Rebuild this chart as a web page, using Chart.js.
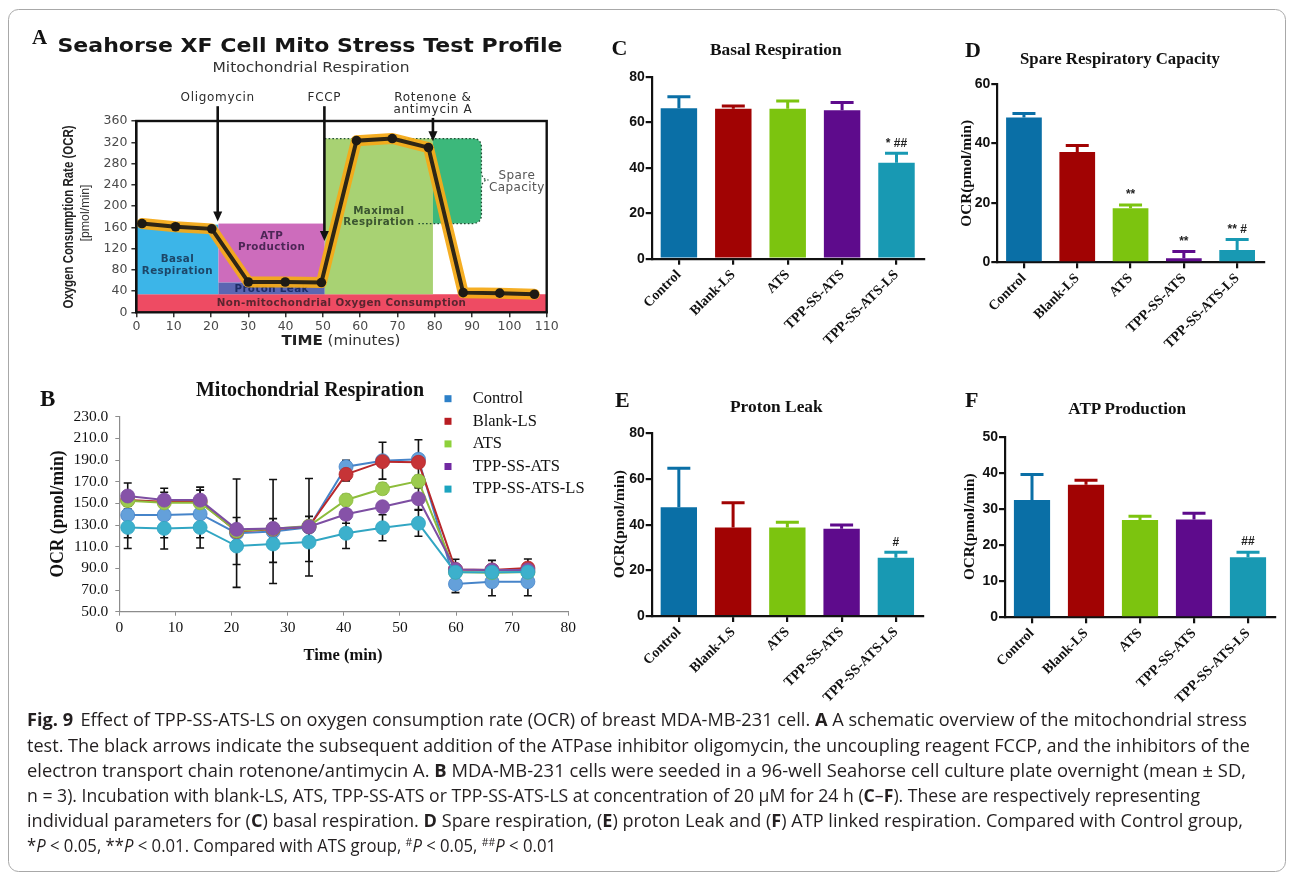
<!DOCTYPE html>
<html>
<head>
<meta charset="utf-8">
<script src="https://cdn.jsdelivr.net/npm/chart.js@4.4.1/dist/chart.umd.min.js"></script>
<style>
  html, body { margin: 0; padding: 0; background: #fff; }
  body { width: 1293px; height: 875px; position: relative; overflow: hidden; }
  canvas { position: absolute; }
  svg.overlay { position: absolute; left: 0; top: 0; pointer-events: none; }
</style>
</head>
<body>
<canvas id="panelA" width="560" height="290" style="left:20px;top:80px"></canvas>
<canvas id="panelB" width="580" height="310" style="left:20px;top:370px"></canvas>
<canvas id="panelC" width="330" height="330" style="left:600px;top:30px"></canvas>
<canvas id="panelD" width="355" height="330" style="left:930px;top:30px"></canvas>
<canvas id="panelE" width="330" height="330" style="left:600px;top:380px"></canvas>
<canvas id="panelF" width="355" height="330" style="left:930px;top:380px"></canvas>

<svg class="overlay" width="1293" height="875" xmlns="http://www.w3.org/2000/svg">
  <rect x="8.5" y="9.5" width="1277" height="862" rx="10" ry="10" fill="none" stroke="#a8a8a8" stroke-width="1"/>

  <!-- panel A headings -->
  <text x="32" y="44" font-family="Liberation Serif" font-weight="bold" font-size="21" fill="#111">A</text>
  <text x="57.5" y="52" font-family="DejaVu Sans" font-weight="bold" font-size="20" fill="#161616" textLength="505" lengthAdjust="spacingAndGlyphs">Seahorse XF Cell Mito Stress Test Profile</text>
  <text x="311" y="71.5" text-anchor="middle" font-family="DejaVu Sans" font-size="13.5" fill="#333" textLength="197" lengthAdjust="spacingAndGlyphs">Mitochondrial Respiration</text>
  <text transform="translate(73,217) rotate(-90)" text-anchor="middle" font-family="Liberation Sans Narrow, Liberation Sans" font-weight="bold" font-size="14.5" fill="#222" textLength="183" lengthAdjust="spacingAndGlyphs">Oxygen Consumption Rate (OCR)</text>
  <text transform="translate(88.5,213) rotate(-90)" text-anchor="middle" font-family="Liberation Sans Narrow, Liberation Sans" font-size="13" fill="#333" textLength="57" lengthAdjust="spacingAndGlyphs">[pmol/min]</text>
  <text x="341" y="345" text-anchor="middle" font-family="DejaVu Sans" font-size="13.5" fill="#333" textLength="119" lengthAdjust="spacingAndGlyphs"><tspan font-weight="bold" fill="#222">TIME</tspan> (minutes)</text>

  <!-- panel B headings -->
  <text x="40" y="405.5" font-family="Liberation Serif" font-weight="bold" font-size="23" fill="#111">B</text>
  <text x="196" y="395.5" font-family="Liberation Serif" font-weight="bold" font-size="20" fill="#111" textLength="228" lengthAdjust="spacingAndGlyphs">Mitochondrial  Respiration</text>
  <text transform="translate(62.8,514) rotate(-90)" text-anchor="middle" font-family="Liberation Serif" font-weight="bold" font-size="18" fill="#111" textLength="127" lengthAdjust="spacingAndGlyphs">OCR (pmol/min)</text>
  <text x="343" y="660" text-anchor="middle" font-family="Liberation Serif" font-weight="bold" font-size="17" fill="#111" textLength="79" lengthAdjust="spacingAndGlyphs">Time (min)</text>

  <!-- panels C to F headings -->
  <text x="611.5" y="55" font-family="Liberation Serif" font-weight="bold" font-size="22" fill="#111">C</text>
  <text x="710" y="55" font-family="Liberation Serif" font-weight="bold" font-size="17.5" fill="#111" textLength="131.7" lengthAdjust="spacingAndGlyphs">Basal Respiration</text>

  <text x="965" y="56.7" font-family="Liberation Serif" font-weight="bold" font-size="22" fill="#111">D</text>
  <text x="1020" y="63.5" font-family="Liberation Serif" font-weight="bold" font-size="16.8" fill="#111" textLength="200" lengthAdjust="spacingAndGlyphs">Spare Respiratory Capacity</text>
  <text transform="translate(970.5,173.3) rotate(-90)" text-anchor="middle" font-family="Liberation Serif" font-weight="bold" font-size="15.5" fill="#111" textLength="106.7" lengthAdjust="spacingAndGlyphs">OCR(pmol/min)</text>

  <text x="615" y="406.7" font-family="Liberation Serif" font-weight="bold" font-size="22" fill="#111">E</text>
  <text x="730" y="411.7" font-family="Liberation Serif" font-weight="bold" font-size="17.3" fill="#111" textLength="92.7" lengthAdjust="spacingAndGlyphs">Proton Leak</text>
  <text transform="translate(623.5,524.2) rotate(-90)" text-anchor="middle" font-family="Liberation Serif" font-weight="bold" font-size="15.5" fill="#111" textLength="108.3" lengthAdjust="spacingAndGlyphs">OCR(pmol/min)</text>

  <text x="965" y="406.7" font-family="Liberation Serif" font-weight="bold" font-size="22" fill="#111">F</text>
  <text x="1068.3" y="414" font-family="Liberation Serif" font-weight="bold" font-size="16.7" fill="#111" textLength="117.7" lengthAdjust="spacingAndGlyphs">ATP Production</text>
  <text transform="translate(973.5,526.7) rotate(-90)" text-anchor="middle" font-family="Liberation Serif" font-weight="bold" font-size="15.5" fill="#111" textLength="106.7" lengthAdjust="spacingAndGlyphs">OCR(pmol/min)</text>

  <!-- figure caption -->
  <g font-family="Open Sans" font-size="17.5" fill="#231f20">
    <text x="27" y="726" textLength="1220" lengthAdjust="spacingAndGlyphs"><tspan font-weight="bold">Fig. 9</tspan><tspan dx="7">Effect of TPP-SS-ATS-LS on oxygen consumption rate (OCR) of breast MDA-MB-231 cell. </tspan><tspan font-weight="bold">A</tspan> A schematic overview of the mitochondrial stress</text>
    <text x="27" y="752" textLength="1223" lengthAdjust="spacingAndGlyphs">test. The black arrows indicate the subsequent addition of the ATPase inhibitor oligomycin, the uncoupling reagent FCCP, and the inhibitors of the</text>
    <text x="27" y="777" textLength="1219" lengthAdjust="spacingAndGlyphs">electron transport chain rotenone/antimycin A. <tspan font-weight="bold">B</tspan> MDA-MB-231 cells were seeded in a 96-well Seahorse cell culture plate overnight (mean ± SD,</text>
    <text x="27" y="802" textLength="1173" lengthAdjust="spacingAndGlyphs">n = 3). Incubation with blank-LS, ATS, TPP-SS-ATS or TPP-SS-ATS-LS at concentration of 20 μM for 24 h (<tspan font-weight="bold">C</tspan>–<tspan font-weight="bold">F</tspan>). These are respectively representing</text>
    <text x="27" y="827" textLength="1216" lengthAdjust="spacingAndGlyphs">individual parameters for (<tspan font-weight="bold">C</tspan>) basal respiration. <tspan font-weight="bold">D</tspan> Spare respiration, (<tspan font-weight="bold">E</tspan>) proton Leak and (<tspan font-weight="bold">F</tspan>) ATP linked respiration. Compared with Control group,</text>
    <text x="27" y="852" textLength="529" lengthAdjust="spacingAndGlyphs">*<tspan font-style="italic">P</tspan> &lt; 0.05, **<tspan font-style="italic">P</tspan> &lt; 0.01. Compared with ATS group, <tspan font-size="11" dy="-6">#</tspan><tspan font-style="italic" dy="6">P</tspan> &lt; 0.05, <tspan font-size="11" dy="-6">##</tspan><tspan font-style="italic" dy="6">P</tspan> &lt; 0.01</text>
  </g>
</svg>

<script>
// ---------- Panel A: schematic Cell Mito Stress Test profile ----------
const profileTime = [1.5, 10.5, 20.2, 30, 39.9, 49.6, 59, 68.6, 78.3, 87.6, 97.4, 106.7];
const profileOCR  = [167, 161, 157, 57, 57, 56, 323, 327, 310, 37, 36, 34];

const injectionTime = [21.8, 50.4, 79.5];
const injectionTip  = [171, 134, 322];
const injectionName = [['Oligomycin'], ['FCCP'], ['Rotenone &', 'antimycin A']];

const regionLabel = ['Non-mitochondrial Oxygen Consumption', 'Basal\nRespiration', 'ATP\nProduction',
                     'Proton Leak', 'Maximal\nRespiration', 'Spare\nCapacity'];
const regionFrom = [0, 0, 22, 22, 50.5, 79.5];
const regionTo   = [110, 22, 50.5, 50.5, 79.5, 92.5];
const regionLow  = [0, 34, 56, 34, 34, 167];
const regionHigh = [34, 165, 167, 56, 327, 327];

// ---------- Panel B: OCR time course ----------
const timeMin = [1.5, 8.0, 14.4, 20.9, 27.4, 33.8, 40.4, 46.9, 53.3, 59.9, 66.4, 72.8];
const groups = ['Control', 'Blank-LS', 'ATS', 'TPP-SS-ATS', 'TPP-SS-ATS-LS'];
const ocrControl     = [139.2, 139.2, 140.2, 122.5, 124.0, 128.0, 183.8, 189.4, 190.7, 75.6, 77.7, 77.7];
const ocrBlankLS     = [153.0, 151.5, 151.5, 124.0, 126.0, 128.5, 176.8, 188.5, 187.9, 89.0, 88.5, 90.3];
const ocrATS         = [152.5, 150.5, 150.5, 124.5, 126.5, 129.0, 153.1, 163.5, 170.6, 86.6, 86.0, 86.6];
const ocrTPPSSATS    = [156.8, 153.0, 153.0, 126.0, 126.9, 128.5, 139.9, 146.9, 154.3, 89.0, 88.5, 88.5];
const ocrTPPSSATSLS  = [127.8, 126.9, 127.8, 110.6, 112.5, 114.3, 122.4, 127.5, 131.6, 86.4, 86.4, 86.6];
const sdControl      = [21, 21, 22, 50, 48, 45, 6, 17, 18, 8, 13, 13];
const sdBlankLS      = [4, 4, 4, 5, 5, 5, 6, 4, 4, 3, 3, 3];
const sdATS          = [3, 3, 3, 3, 3, 3, 5, 5, 5, 3, 3, 3];
const sdTPPSSATS     = [12, 11, 12, 11, 9, 9.5, 8.3, 4, 10, 3, 3, 3];
const sdTPPSSATSLS   = [19.5, 19, 19, 17, 17, 18, 14, 12, 12, 12, 11, 12];

// ---------- Panels C-F: derived respiration parameters ----------
const barGroups = ['Control', 'Blank-LS', 'ATS', 'TPP-SS-ATS', 'TPP-SS-ATS-LS'];
const basalMean = [66.1, 65.9, 65.9, 65.3, 42.2];
const basalSD   = [5.1, 1.2, 3.4, 3.4, 4.1];
const basalSig  = ['', '', '', '', '* ##'];
const spareMean = [48.7, 37.1, 18.2, 1.35, 4.1];
const spareSD   = [1.4, 2.2, 1.1, 2.25, 3.6];
const spareSig  = ['', '', '**', '**', '** #'];
const leakMean  = [47.6, 38.8, 38.8, 38.2, 25.5];
const leakSD    = [17.1, 10.8, 2.2, 1.7, 2.4];
const leakSig   = ['', '', '', '', '#'];
const atpMean   = [32.6, 36.8, 27.0, 27.2, 16.7];
const atpSD     = [7.1, 1.3, 1.1, 1.7, 1.4];
const atpSig    = ['', '', '', '', '##'];

Chart.defaults.font.family = 'Liberation Sans';
Chart.defaults.animation = false;

function setSpacing(ctx, v) { if ('letterSpacing' in ctx) ctx.letterSpacing = v; }

// Fixes the plot rectangle of a chart inside its canvas (page coordinates).
function fixedArea(box, area) {
  return {
    padding: { left: 0, top: area.t - box.y, right: box.x + box.w - area.r, bottom: 0 },
    yWidth: area.l - box.x,
    xHeight: box.y + box.h - area.b
  };
}

// ---------------- Panel A ----------------
const profileDecor = {
  id: 'profileDecor',
  beforeDatasetsDraw(chart, args, o) {
    const { ctx, scales: { x, y } } = chart;
    ctx.save();
    regionLabel.forEach((_, i) => {
      const x0 = x.getPixelForValue(regionFrom[i]), x1 = x.getPixelForValue(regionTo[i]);
      const y0 = y.getPixelForValue(regionHigh[i]), y1 = y.getPixelForValue(regionLow[i]);
      ctx.fillStyle = o.fills[i];
      if (i === o.roundedIndex) {
        const r = 9;
        ctx.beginPath();
        ctx.moveTo(x0, y0);
        ctx.lineTo(x1 - r, y0);
        ctx.quadraticCurveTo(x1, y0, x1, y0 + r);
        ctx.lineTo(x1, y1 - r);
        ctx.quadraticCurveTo(x1, y1, x1 - r, y1);
        ctx.lineTo(x0, y1);
        ctx.closePath();
        ctx.fill();
        // dotted outline with the brace tip
        const ym = y.getPixelForValue(o.braceAt);
        ctx.setLineDash([1.6, 2.2]);
        ctx.strokeStyle = '#1f4d33';
        ctx.lineWidth = 1.3;
        ctx.beginPath();
        ctx.moveTo(x.getPixelForValue(o.dottedFrom), y0);
        ctx.lineTo(x1 - r, y0);
        ctx.quadraticCurveTo(x1, y0, x1, y0 + r);
        ctx.lineTo(x1, ym - 9);
        ctx.quadraticCurveTo(x1, ym, x1 + 7, ym);
        ctx.quadraticCurveTo(x1, ym, x1, ym + 9);
        ctx.lineTo(x1, y1 - r);
        ctx.quadraticCurveTo(x1, y1, x1 - r, y1);
        ctx.lineTo(x.getPixelForValue(o.dottedBack), y1);
        ctx.stroke();
        ctx.setLineDash([]);
      } else {
        ctx.fillRect(x0, y0, x1 - x0, y1 - y0);
      }
    });
    ctx.textAlign = 'center';
    ctx.textBaseline = 'middle';
    regionLabel.forEach((txt, i) => {
      const [lx, ly] = o.labelAt[i];
      const px = x.getPixelForValue(lx), py = y.getPixelForValue(ly);
      const lines = txt.split('\n');
      ctx.font = i === o.roundedIndex ? '12px "DejaVu Sans"' : 'bold 10.3px "DejaVu Sans"';
      setSpacing(ctx, '0.4px');
      ctx.fillStyle = o.textColors[i];
      lines.forEach((ln, k) => ctx.fillText(ln, px, py + (k - (lines.length - 1) / 2) * 11.5));
    });
    ctx.restore();
  },
  afterDraw(chart, args, o) {
    const { ctx, chartArea: a, scales: { x, y } } = chart;
    ctx.save();
    // plot frame
    ctx.strokeStyle = '#111';
    ctx.lineWidth = 2.4;
    ctx.strokeRect(a.left, a.top, a.right - a.left, a.bottom - a.top);
    // injection arrows
    ctx.fillStyle = '#2b2b2b';
    ctx.strokeStyle = '#111';
    ctx.textAlign = 'center';
    ctx.textBaseline = 'middle';
    ctx.font = '12px "DejaVu Sans"';
    setSpacing(ctx, '0.7px');
    injectionTime.forEach((t, i) => {
      const px = x.getPixelForValue(t);
      const tip = y.getPixelForValue(injectionTip[i]);
      const lines = injectionName[i];
      lines.forEach((ln, k) => ctx.fillText(ln, px, a.top - 23.3 + k * 11.7));
      const start = a.top - 23.3 + (lines.length - 1) * 11.7 + 8.5;
      ctx.lineWidth = 2.6;
      ctx.beginPath();
      ctx.moveTo(px, start);
      ctx.lineTo(px, tip - 7);
      ctx.stroke();
      ctx.beginPath();
      ctx.moveTo(px, tip);
      ctx.lineTo(px - 4.5, tip - 10);
      ctx.lineTo(px + 4.5, tip - 10);
      ctx.closePath();
      ctx.fillStyle = '#111';
      ctx.fill();
      ctx.fillStyle = '#2b2b2b';
    });
    ctx.restore();
  }
};

(function () {
  const g = fixedArea({ x: 20, y: 80, w: 560, h: 290 }, { l: 136.4, t: 121, r: 546.7, b: 312.3 });
  const pts = profileTime.map((t, i) => ({ x: t, y: profileOCR[i] }));
  const tickFont = { family: 'DejaVu Sans', size: 12.5 };
  new Chart(document.getElementById('panelA'), {
    type: 'line',
    data: {
      datasets: [
        { data: pts, borderColor: '#2e2616', borderWidth: 4, pointRadius: 4.8, pointBackgroundColor: '#1e1a14',
          pointBorderWidth: 0, tension: 0, order: 0 },
        { data: pts, borderColor: 'rgba(244,170,24,0.95)', borderWidth: 11, pointRadius: 0, tension: 0,
          borderJoinStyle: 'round', borderCapStyle: 'round', order: 1 }
      ]
    },
    options: {
      responsive: false, events: [],
      layout: { padding: g.padding },
      plugins: {
        legend: { display: false }, tooltip: { enabled: false },
        profileDecor: {
          fills: ['#ee4b63', '#3cb5e8', '#cd6cbc', '#5b66b2', '#a8d273', '#3cb87b'],
          textColors: ['#5b2530', '#1d4668', '#4d2656', '#1e2c66', '#3b5530', '#555'],
          labelAt: [[55, 17], [11, 88], [36.25, 133], [36.25, 44], [65, 180], [102, 245]],
          roundedIndex: 5, braceAt: 249, dottedFrom: 50.5, dottedBack: 75.5
        }
      },
      scales: {
        x: { type: 'linear', min: 0, max: 110,
             ticks: { stepSize: 10, font: tickFont, color: '#4a4a4a', padding: 2 },
             grid: { display: true, drawOnChartArea: false, tickLength: 5, color: '#333', lineWidth: 1.5 },
             border: { display: true, color: '#111', width: 2 },
             afterFit: s => { s.height = g.xHeight; } },
        y: { min: 0, max: 360,
             ticks: { stepSize: 40, font: tickFont, color: '#4a4a4a', padding: 4 },
             grid: { display: true, drawOnChartArea: false, tickLength: 5, color: '#333', lineWidth: 1.5 },
             border: { display: true, color: '#111', width: 2 },
             afterFit: s => { s.width = g.yWidth; } }
      }
    },
    plugins: [profileDecor]
  });
})();

// ---------------- Panel B ----------------
const pointErrorBars = {
  id: 'pointErrorBars',
  beforeDatasetsDraw(chart) {
    const { ctx, scales: { y } } = chart;
    ctx.save();
    ctx.strokeStyle = '#111';
    ctx.lineWidth = 1.6;
    chart.data.datasets.forEach((ds, di) => {
      const meta = chart.getDatasetMeta(di);
      meta.data.forEach((pt, i) => {
        const v = ds.data[i].y, e = ds.sd[i];
        const top = y.getPixelForValue(v + e), bot = y.getPixelForValue(v - e);
        ctx.beginPath();
        ctx.moveTo(pt.x, top); ctx.lineTo(pt.x, bot);
        ctx.moveTo(pt.x - 4, top); ctx.lineTo(pt.x + 4, top);
        ctx.moveTo(pt.x - 4, bot); ctx.lineTo(pt.x + 4, bot);
        ctx.stroke();
      });
    });
    ctx.restore();
  }
};

const seriesLegend = {
  id: 'seriesLegend',
  afterDraw(chart, args, o) {
    const ctx = chart.ctx;
    ctx.save();
    ctx.font = '16.5px "Liberation Serif"';
    ctx.textBaseline = 'middle';
    ctx.textAlign = 'left';
    chart.data.datasets.forEach((ds, i) => {
      const cy = o.top + i * o.gap;
      ctx.fillStyle = ds.legendColor;
      ctx.fillRect(o.x - 3.5, cy - 3.5, 7, 7);
      ctx.fillStyle = '#111';
      ctx.fillText(ds.label, o.textX, cy);
    });
    ctx.restore();
  }
};

(function () {
  const g = fixedArea({ x: 20, y: 370, w: 580, h: 310 }, { l: 119.3, t: 416.7, r: 568.3, b: 611.7 });
  const values = [ocrControl, ocrBlankLS, ocrATS, ocrTPPSSATS, ocrTPPSSATSLS];
  const errors = [sdControl, sdBlankLS, sdATS, sdTPPSSATS, sdTPPSSATSLS];
  const lineColors   = ['#4684c9', '#b8282c', '#8dbd3c', '#7d4ea2', '#31a6c3'];
  const markerColors = ['#64a0da', '#c63437', '#9ccb4f', '#8652a8', '#3cb0cc'];
  const legendColors = ['#2d80c8', '#b81d22', '#8ed13b', '#7129a1', '#1ca4bf'];
  const tickFont = { family: 'Liberation Serif', size: 15.5 };
  new Chart(document.getElementById('panelB'), {
    type: 'line',
    data: {
      datasets: groups.map((name, i) => ({
        label: name,
        data: timeMin.map((t, k) => ({ x: t, y: values[i][k] })),
        sd: errors[i],
        legendColor: legendColors[i],
        borderColor: lineColors[i],
        borderWidth: 2,
        pointRadius: 7,
        pointBackgroundColor: markerColors[i],
        pointBorderColor: lineColors[i],
        pointBorderWidth: 0.8,
        tension: 0,
        order: groups.length - 1 - i
      }))
    },
    options: {
      responsive: false, events: [],
      layout: { padding: g.padding },
      plugins: {
        legend: { display: false }, tooltip: { enabled: false },
        seriesLegend: { x: 428, textX: 452.7, top: 28.7, gap: 22.6 }
      },
      scales: {
        x: { type: 'linear', min: 0, max: 80,
             ticks: { stepSize: 10, font: tickFont, color: '#111', padding: 3 },
             grid: { display: true, drawOnChartArea: false, tickLength: 4, color: '#8c8c8c', lineWidth: 1 },
             border: { display: true, color: '#8c8c8c', width: 1.2 },
             afterFit: s => { s.height = g.xHeight; } },
        y: { min: 50, max: 230,
             ticks: { stepSize: 20, font: tickFont, color: '#111', padding: 7, callback: v => v.toFixed(1) },
             grid: { display: true, drawOnChartArea: false, tickLength: 4, color: '#8c8c8c', lineWidth: 1 },
             border: { display: true, color: '#8c8c8c', width: 1.2 },
             afterFit: s => { s.width = g.yWidth; } }
      }
    },
    plugins: [pointErrorBars, seriesLegend]
  });
})();

// ---------------- Panels C-F ----------------
const barColors = ['#0a6fa6', '#a10303', '#7cc40f', '#5e0b8c', '#1899b3'];

const upperErrorBars = {
  id: 'upperErrorBars',
  afterDatasetsDraw(chart) {
    const { ctx, scales: { y } } = chart;
    const ds = chart.data.datasets[0];
    const meta = chart.getDatasetMeta(0);
    ctx.save();
    ctx.lineWidth = 3;
    meta.data.forEach((bar, i) => {
      const top = y.getPixelForValue(ds.data[i] + ds.errors[i]);
      const base = y.getPixelForValue(ds.data[i]);
      ctx.strokeStyle = barColors[i];
      ctx.beginPath();
      ctx.moveTo(bar.x, base);
      ctx.lineTo(bar.x, top);
      ctx.moveTo(bar.x - 11.5, top);
      ctx.lineTo(bar.x + 11.5, top);
      ctx.stroke();
    });
    ctx.restore();
  }
};

const significanceMarks = {
  id: 'significanceMarks',
  afterDatasetsDraw(chart) {
    const { ctx, scales: { y } } = chart;
    const ds = chart.data.datasets[0];
    const meta = chart.getDatasetMeta(0);
    ctx.save();
    ctx.font = 'bold 12px "Liberation Sans"';
    ctx.fillStyle = '#222';
    ctx.textAlign = 'center';
    ctx.textBaseline = 'middle';
    meta.data.forEach((bar, i) => {
      if (!ds.marks[i]) return;
      ctx.fillText(ds.marks[i], bar.x, y.getPixelForValue(ds.data[i] + ds.errors[i]) - 10);
    });
    ctx.restore();
  }
};

function barPanel(canvasId, box, area, means, errors, marks, yMax, yStep) {
  const g = fixedArea(box, area);
  const axisGrid = { display: true, drawOnChartArea: false, offset: false, tickLength: 6, lineWidth: 2.2, color: '#111' };
  const axisBorder = { display: true, color: '#111', width: 2.2 };
  return new Chart(document.getElementById(canvasId), {
    type: 'bar',
    data: {
      labels: barGroups,
      datasets: [{ data: means, errors, marks, backgroundColor: barColors, borderWidth: 0,
                   barPercentage: 0.67, categoryPercentage: 1 }]
    },
    options: {
      responsive: false, events: [],
      layout: { padding: g.padding },
      plugins: { legend: { display: false }, tooltip: { enabled: false } },
      scales: {
        x: { ticks: { font: { family: 'Liberation Serif', weight: 'bold', size: 14 }, color: '#111',
                      minRotation: 45, maxRotation: 45, autoSkip: false, padding: 2 },
             grid: axisGrid, border: axisBorder,
             afterFit: s => { s.height = g.xHeight; } },
        y: { min: 0, max: yMax,
             ticks: { stepSize: yStep, font: { family: 'Liberation Sans', weight: 'bold', size: 14 }, color: '#111', padding: 1 },
             grid: axisGrid, border: axisBorder,
             afterFit: s => { s.width = g.yWidth; } }
      }
    },
    plugins: [upperErrorBars, significanceMarks]
  });
}

barPanel('panelC', { x: 600, y: 30, w: 330, h: 330 }, { l: 651.7, t: 76.7, r: 923.7, b: 258.7 },
         basalMean, basalSD, basalSig, 80, 20);
barPanel('panelD', { x: 930, y: 30, w: 355, h: 330 }, { l: 997.3, t: 84, r: 1263.8, b: 262.3 },
         spareMean, spareSD, spareSig, 60, 20);
barPanel('panelE', { x: 600, y: 380, w: 330, h: 330 }, { l: 651.7, t: 433.3, r: 923, b: 616 },
         leakMean, leakSD, leakSig, 80, 20);
barPanel('panelF', { x: 930, y: 380, w: 355, h: 330 }, { l: 1005, t: 437.3, r: 1275, b: 617.3 },
         atpMean, atpSD, atpSig, 50, 10);
</script>
</body>
</html>
